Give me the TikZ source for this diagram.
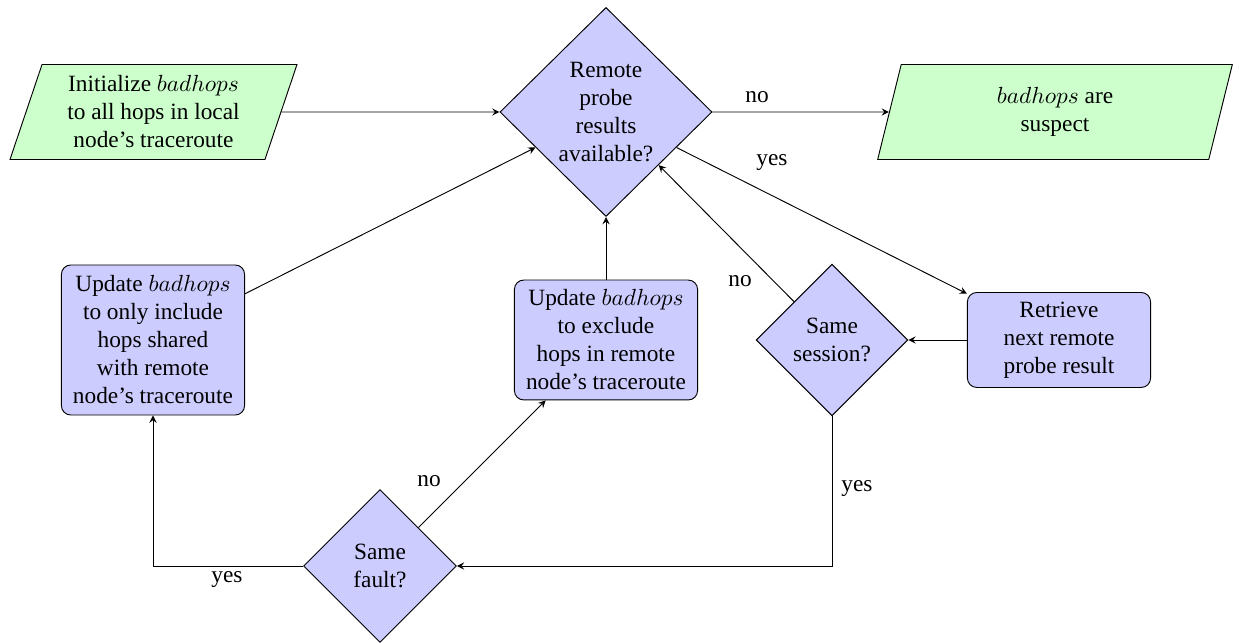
\documentclass[tikz,border=0pt]{standalone}
\usepackage{fontspec}
\setmainfont{Liberation Serif}
\usetikzlibrary{shapes.geometric}

\tikzset{
  decision/.style={shape=diamond, draw, fill=blue!20, align=center, inner sep=0pt},
  process/.style={shape=rectangle, rounded corners, draw, fill=blue!20, align=center, minimum width=78.5pt},
  io/.style={shape=trapezium, trapezium left angle=70, trapezium right angle=110,
             trapezium stretches body, draw, fill=green!20, align=center, minimum height=40.7pt},
  flow/.style={draw, -stealth}
}

\begin{document}
\begin{tikzpicture}[x=0.4286pt, y=-0.4286pt]
     \useasboundingbox (0,0) rectangle (1239,643);
     \path (153.5,112) node [io, minimum width=123pt] (init) {Initialize $badhops$\\ to all hops in local\\ node's traceroute}
           (606,112) node [decision, minimum width=90.9pt, minimum height=89.6pt] (avail) {Remote\\ probe\\ results\\ available?}
           (1055,112) node [io, minimum width=152pt] (suspect) {$badhops$ are\\ suspect}
           (1059,340) node [process, minimum height=40.7pt] (retrieve) {Retrieve\\ next remote\\ probe result}
           (832,340) node [decision, minimum size=65pt] (session) {Same\\ session?}
           (606,340) node [process, minimum height=51.4pt] (exclude) {Update $badhops$\\ to exclude\\ hops in remote\\ node's traceroute}
           (153,340) node [process, minimum height=64.3pt] (include) {Update $badhops$\\ to only include\\ hops shared\\ with remote\\ node's traceroute}
           (380,566) node [decision, minimum size=65.5pt] (fault) {Same\\ fault?}
     ;
     % edge labels
     \path (757,97) node (no1) {no}
           (772,163) node (yes1) {yes}
           (740,281) node (no2) {no}
           (857,489) node (yes2) {yes}
           (429,481) node (no3) {no}
           (227,580) node (yes3) {yes}
     ;
     \draw[flow] (init) -- (avail);
     \draw[flow] (avail) -- (suspect);
     \draw[flow] (avail) -- (retrieve);
     \draw[flow] (retrieve) -- (session);
     \draw[flow] (session) -- (avail);
     \draw[flow] (session) |- (fault);
     \draw[flow] (fault) -- (exclude);
     \draw[flow] (fault) -| (include);
     \draw[flow] (exclude) -- (avail);
     \draw[flow] (include) -- (avail);
\end{tikzpicture}
\end{document}
